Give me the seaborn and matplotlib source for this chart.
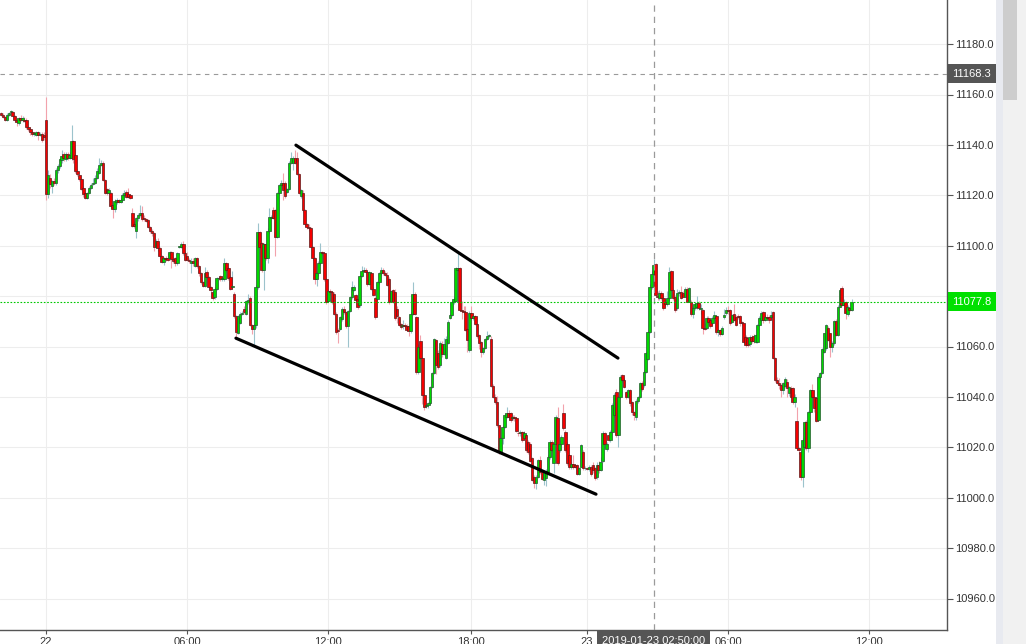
import matplotlib
matplotlib.use("Agg")
import matplotlib.pyplot as plt
import seaborn as sns
from matplotlib.patches import Rectangle

# 5-minute candles, one entry per bar (x axis is bar index, like the trading terminal)
open_ = [
    11152.5, 11152, 11151, 11150, 11152, 11153, 11153, 11151.5, 11150, 11148.5,
    11150.5, 11150, 11150, 11150, 11147, 11146.5, 11145, 11144.5, 11144, 11145,
    11144, 11144.5, 11144, 11150, 11120.5, 11127, 11123.5, 11125.5, 11125, 11130,
    11131.6, 11134, 11136.4, 11134.5, 11136.4, 11135, 11135, 11141.5, 11136, 11129.5,
    11128, 11126.5, 11123, 11121, 11119, 11121, 11123, 11124.5, 11125, 11127,
    11129, 11132, 11133, 11126, 11122.4, 11121, 11121, 11116, 11114.5, 11117.5,
    11118, 11117.5, 11118, 11120, 11121.5, 11120.5, 11120, 11113, 11108.5, 11106,
    11111, 11112, 11113, 11111, 11110.5, 11110, 11107.5, 11105.8, 11105, 11099.5,
    11102, 11099, 11096, 11093.5, 11095, 11095, 11095, 11097.4, 11094.6, 11095,
    11093, 11099.4, 11099.6, 11100.6, 11097, 11096, 11094.5, 11093, 11094, 11092,
    11095, 11092, 11089, 11085.5, 11084, 11089.6, 11087.5, 11083.5, 11081.6, 11079.6,
    11083, 11087, 11088, 11086.6, 11086.6, 11093, 11091, 11087.5, 11083.5, 11081,
    11072, 11065.5, 11069.5, 11073, 11075, 11073, 11077.5, 11079.4, 11068.5, 11067,
    11068.5, 11083.6, 11105.4, 11101, 11090.3, 11100.6, 11095, 11105.8, 11111, 11114,
    11114, 11103.4, 11121, 11124, 11125, 11124.8, 11121.5, 11122.5, 11132.7, 11133,
    11135, 11135, 11128.6, 11119.6, 11121, 11114, 11108.5, 11107.4, 11107, 11099.4,
    11095, 11086.6, 11089, 11093, 11097.4, 11097, 11086.6, 11078, 11082, 11081.6,
    11081, 11073, 11066.5, 11067, 11071, 11075, 11073.5, 11068, 11074, 11079.6,
    11082.5, 11080.4, 11078.8, 11076.4, 11088, 11090, 11090.5, 11089.6, 11085, 11089,
    11083, 11079.4, 11079, 11085.5, 11089, 11090.5, 11089, 11088.5, 11086.8, 11078,
    11082.4, 11081.6, 11075, 11071.7, 11069, 11068, 11068.5, 11068, 11068, 11066,
    11073, 11081, 11071.6, 11050, 11062, 11055.6, 11040.7, 11036.5, 11036.7, 11037.5,
    11044, 11049.6, 11062.6, 11057.6, 11052.6, 11061, 11057, 11055.6, 11061.3, 11071.5,
    11072.5, 11077.6, 11078, 11090.5, 11091, 11074.4, 11074, 11073.6, 11067, 11058.6,
    11073.3, 11071.5, 11072, 11069, 11064.5, 11061.7, 11057.8, 11059.5, 11063, 11064,
    11063, 11044.4, 11040, 11038, 11028.8, 11018.2, 11023.5, 11028, 11032, 11033.5,
    11033.5, 11031.5, 11032, 11031.5, 11025.8, 11025.5, 11026, 11023.5, 11024.8, 11022.2,
    11021.5, 11015.6, 11008.3, 11005.7, 11008.3, 11014.9, 11010.3, 11007, 11007.7, 11010.3,
    11016.2, 11022.2, 11013.6, 11021.5, 11031.5, 11018.9, 11021.5, 11033.5, 11026.2, 11021.5,
    11016.9, 11012.3, 11013.5, 11013, 11013, 11009.6, 11012.3, 11018, 11011.6, 11011.6,
    11011.5, 11012.3, 11013, 11011.6, 11008.3, 11013, 11011, 11014.6, 11025.5, 11019.2,
    11024.8, 11022.9, 11026.2, 11032.8, 11042, 11024.8, 11040, 11048.7, 11046.7, 11042,
    11040, 11042.7, 11038, 11034.1, 11032, 11038.3, 11040, 11045.5, 11044.7, 11050,
    11055, 11065.9, 11083.7, 11088.6, 11092.6, 11079.8, 11079.1, 11081.1, 11079.1, 11077.5,
    11076.7, 11079.1, 11090, 11082.4, 11079.8, 11075.1, 11081.1, 11081.5, 11081.1, 11079.8,
    11082.8, 11077.8, 11077.8, 11072.9, 11075.1, 11075.5, 11077.4, 11074.8, 11074.5, 11067.5,
    11067.5, 11071.4, 11070.5, 11069.2, 11071.2, 11072.1, 11065.9, 11066.5, 11064.9, 11071.6,
    11073.1, 11074.5, 11074.5, 11069.8, 11072.7, 11071.8, 11072.1, 11072.1, 11069.8, 11069.2,
    11063.9, 11063.2, 11060.8, 11063.9, 11064.2, 11061.9, 11061.9, 11068.5, 11070.5, 11073.5,
    11070.5, 11071.8, 11071.8, 11071.6, 11073.5, 11055.5, 11046.7, 11045.5, 11044.7, 11042.7,
    11044.4, 11046, 11041.4, 11043.6, 11043.4, 11038.1, 11030.4, 11019.6, 11018.2, 11008.3,
    11020.2, 11030.1, 11019.8, 11034.1, 11042.7, 11040.1, 11039.5, 11030.8, 11048, 11049.3,
    11057.9, 11059.3, 11067.5, 11065.2, 11059.9, 11061.2, 11070.1, 11064.5, 11075.8, 11083.1,
    11076.5, 11077.8, 11072.7, 11075.1, 11074.5,
]
high = [
    11153, 11152.5, 11151.5, 11152.5, 11153, 11154, 11153.5, 11152, 11150.5, 11151,
    11152, 11151.5, 11151, 11150.5, 11147.5, 11147, 11145.5, 11145, 11145.5, 11145.5,
    11145, 11145, 11145, 11159, 11130, 11128.5, 11126, 11127, 11131, 11132.5,
    11135, 11138, 11137, 11137, 11137, 11137, 11148, 11142, 11138.5, 11130.5,
    11128.5, 11127, 11123.5, 11121.5, 11121.5, 11123.5, 11125, 11127, 11128, 11131,
    11134.7, 11134, 11133.5, 11126.5, 11123, 11123, 11121.5, 11116.5, 11118.5, 11119,
    11118.5, 11119, 11121, 11122, 11122, 11123, 11120.5, 11115, 11110, 11111.5,
    11113, 11116, 11115.7, 11112, 11111, 11110.5, 11108, 11106.5, 11105.5, 11102.5,
    11103, 11099.5, 11096.5, 11095.5, 11096, 11097, 11098, 11098, 11095.5, 11095.5,
    11097.5, 11100, 11101.5, 11102, 11098, 11097.5, 11095, 11095, 11095, 11095.5,
    11095.5, 11092.5, 11089.5, 11086, 11091.4, 11090.5, 11088, 11084, 11082, 11083.5,
    11087.5, 11088, 11088.5, 11088, 11095, 11093.5, 11091.5, 11088, 11090, 11081.5,
    11072.5, 11072.5, 11073.5, 11074, 11076, 11078.5, 11081, 11080, 11069, 11069,
    11084.5, 11109, 11106, 11101.5, 11101, 11101, 11107, 11115, 11112, 11115.5,
    11114.5, 11121.5, 11124.5, 11126, 11129, 11125.5, 11123, 11133.5, 11137, 11135.5,
    11138, 11137, 11129, 11122.5, 11122, 11114.5, 11109, 11108.5, 11107.5, 11100,
    11095.5, 11090, 11094, 11101, 11098, 11097.5, 11087, 11082.5, 11083, 11082,
    11081.5, 11073.5, 11067.5, 11072, 11075.5, 11076, 11074, 11074.5, 11080, 11086,
    11084.5, 11081, 11079.5, 11088.5, 11092, 11091.5, 11091, 11090, 11090, 11089.5,
    11083.5, 11080, 11086, 11089.5, 11091.5, 11091, 11090, 11089.5, 11087.5, 11082.5,
    11083, 11083, 11076, 11072.2, 11069.5, 11070.5, 11069.5, 11069, 11068.5, 11073.5,
    11085.5, 11081.5, 11072, 11061, 11064.5, 11056, 11041, 11037.5, 11038, 11044.5,
    11050, 11063.5, 11063, 11058.5, 11062, 11062, 11063.5, 11064, 11070.5, 11073,
    11078, 11079.5, 11091.5, 11097, 11091.5, 11078, 11076, 11076, 11067.5, 11074,
    11076, 11073, 11072.5, 11069.5, 11065, 11062, 11060, 11063.5, 11066, 11065,
    11064, 11045, 11041, 11040.5, 11029, 11024, 11028.5, 11033.5, 11036, 11035,
    11034, 11033, 11033, 11032, 11026.5, 11027, 11026.5, 11026.5, 11025.5, 11023,
    11022, 11016, 11009, 11009, 11015.5, 11016.5, 11011, 11011, 11011.5, 11017,
    11023, 11023, 11022, 11033, 11036, 11023, 11025, 11037, 11027, 11022,
    11017.5, 11014, 11016.9, 11013.5, 11013.5, 11012, 11021.5, 11019, 11012.5, 11012,
    11013, 11013, 11014, 11012, 11014, 11014.5, 11016, 11026.5, 11026, 11022,
    11025.5, 11027, 11037.5, 11041.5, 11043, 11040.5, 11048.5, 11049, 11047.5, 11042.5,
    11043, 11043, 11038.5, 11034.5, 11039, 11040.5, 11046, 11046.5, 11050.5, 11058,
    11066, 11085, 11090, 11094.7, 11093, 11082, 11082.5, 11082, 11080.5, 11079,
    11082, 11091.5, 11090.5, 11083, 11080.5, 11083, 11082.5, 11084, 11082, 11083.5,
    11083.5, 11083.5, 11078.5, 11075.5, 11077.5, 11080, 11078, 11077, 11075, 11069.5,
    11072, 11072, 11071, 11072, 11074, 11072.5, 11067, 11067, 11068, 11075,
    11075.5, 11076, 11075, 11073, 11077, 11072.5, 11073, 11072.5, 11070, 11069.5,
    11064.5, 11063.5, 11064.5, 11064.5, 11065, 11065, 11069, 11072, 11074, 11074,
    11072.5, 11073, 11072.5, 11074, 11074, 11056, 11048, 11047.5, 11045.5, 11046,
    11048, 11047, 11044.5, 11044.5, 11044, 11041, 11036, 11020, 11018.5, 11023.5,
    11030.5, 11031, 11034.5, 11043, 11045, 11040.5, 11040, 11048.5, 11050, 11059.5,
    11065.5, 11069, 11068, 11065.5, 11062, 11070.5, 11071, 11076.5, 11083, 11084,
    11079, 11078, 11076.5, 11075.5, 11079,
]
low = [
    11151.5, 11150.5, 11149.5, 11149.5, 11151.5, 11152.5, 11151, 11149, 11147.5, 11148,
    11149.5, 11149, 11149, 11146.5, 11145.5, 11144, 11143.5, 11143.5, 11143.5, 11142,
    11143.5, 11141, 11142, 11118, 11119, 11123, 11121, 11124, 11124, 11129,
    11131, 11133, 11133.5, 11133.5, 11134, 11134.5, 11134, 11133, 11129, 11127.5,
    11125.5, 11122, 11119.5, 11118.5, 11118.5, 11120.5, 11122.5, 11124, 11124.5, 11126.5,
    11128.5, 11131.5, 11125.5, 11120.5, 11120, 11120.5, 11115, 11111, 11113.5, 11116.5,
    11117, 11117, 11117.5, 11119.5, 11119, 11119, 11118.5, 11107.5, 11107, 11103,
    11110, 11111.5, 11110, 11110, 11109.5, 11107, 11105, 11104, 11098, 11099,
    11098, 11095, 11093, 11092.5, 11094, 11094, 11094.5, 11091, 11093, 11092,
    11092.5, 11099, 11099, 11096.5, 11094, 11094, 11093, 11089, 11092, 11091.5,
    11091, 11088, 11085, 11083.5, 11083.5, 11087, 11083, 11081.5, 11078.5, 11079,
    11082.5, 11086.5, 11086, 11086, 11086, 11089.5, 11086.5, 11082.5, 11083, 11071.5,
    11063.7, 11065, 11069, 11072.5, 11073, 11072.5, 11077, 11068, 11065, 11060.5,
    11067.5, 11083, 11098.5, 11089.5, 11082.4, 11094.5, 11093, 11105, 11110.5, 11110.5,
    11096, 11103, 11120.5, 11123.5, 11118, 11119, 11121, 11122, 11132.5, 11130,
    11132.5, 11128, 11120.5, 11119, 11113.5, 11108, 11106.5, 11106, 11099, 11094.5,
    11085, 11084, 11088, 11092.5, 11096.5, 11086, 11077, 11077.5, 11080.5, 11077,
    11072.5, 11065, 11061.4, 11066.5, 11070, 11073, 11067.5, 11060, 11073.5, 11079,
    11082, 11078, 11075, 11075.5, 11087.5, 11089.5, 11089, 11084, 11084.5, 11082.5,
    11080, 11071, 11078.5, 11085, 11088.5, 11088.5, 11088, 11084, 11077, 11077.5,
    11077.3, 11070.7, 11069.5, 11068, 11067, 11067, 11067.5, 11066, 11064, 11065.5,
    11072.5, 11072.5, 11049, 11049, 11055, 11037, 11035, 11035.5, 11035.5, 11037,
    11043.5, 11049, 11049, 11051, 11052, 11056, 11056.5, 11055, 11061, 11071,
    11072, 11077, 11077.5, 11090, 11074, 11071, 11073, 11066, 11058, 11058,
    11071, 11070.5, 11068.5, 11063.5, 11059, 11056, 11057, 11059, 11062.5, 11063.5,
    11044, 11039.5, 11037, 11028, 11017.5, 11017.5, 11021.5, 11027.5, 11031.5, 11031.5,
    11030, 11031, 11030.5, 11026, 11024.5, 11024.5, 11022, 11023, 11018, 11017.5,
    11014, 11006.5, 11004, 11003.5, 11008, 11009.5, 11007, 11005, 11004.5, 11009.5,
    11015.5, 11018, 11010, 11021, 11013, 11018, 11021, 11027, 11018, 11013,
    11011.5, 11011.5, 11011.5, 11011.8, 11009, 11009, 11012, 11011, 11011, 11011,
    11010.5, 11008.5, 11010, 11007, 11007.5, 11010, 11010.5, 11014, 11021, 11018.5,
    11022.5, 11022, 11026, 11032, 11024, 11020, 11039.5, 11046, 11043.5, 11039,
    11039.5, 11036.5, 11033, 11031, 11031, 11037.5, 11039.5, 11042.5, 11044, 11049.5,
    11054.5, 11065.5, 11083, 11088, 11080, 11078.5, 11078.5, 11078.5, 11074.5, 11076,
    11076, 11078.5, 11082, 11078.5, 11073.5, 11074.5, 11080, 11079, 11079.5, 11079.5,
    11077.5, 11077.5, 11072, 11071.5, 11074.5, 11075, 11074.5, 11073, 11065, 11066.5,
    11067, 11069, 11067.5, 11068.5, 11070.5, 11065, 11064, 11064, 11064.5, 11071,
    11072.5, 11073, 11068.5, 11069.5, 11070, 11068, 11071, 11068, 11068.5, 11061.5,
    11060, 11060, 11060.3, 11061.5, 11061.5, 11061.5, 11061.5, 11068, 11070, 11069.5,
    11070, 11070.5, 11069.5, 11071, 11055, 11046, 11045, 11043, 11040, 11041,
    11043.5, 11040, 11040.5, 11039.5, 11037, 11036, 11019, 11017.5, 11007, 11004.3,
    11019.5, 11019, 11018, 11033.5, 11039.5, 11034, 11030, 11030.3, 11047, 11049,
    11057.5, 11058.5, 11062, 11056, 11058, 11060.5, 11064, 11064, 11075.5, 11076,
    11076, 11071, 11072, 11074, 11074,
]
close = [
    11152, 11151, 11150, 11152, 11152.5, 11153.5, 11151.5, 11150, 11149, 11150.5,
    11150, 11150.5, 11149.5, 11147, 11146.5, 11145, 11144.5, 11144.5, 11145, 11144,
    11144.5, 11142, 11143, 11120.5, 11128, 11124.5, 11125.5, 11125, 11130, 11131.6,
    11134.3, 11135.5, 11134.8, 11136.4, 11135, 11136, 11141.5, 11134.5, 11129.5, 11128.5,
    11126.5, 11122.5, 11120.5, 11119, 11121, 11123, 11124, 11125, 11127, 11129.5,
    11132, 11133, 11126, 11121, 11121, 11122, 11115.7, 11114.5, 11117.7, 11118,
    11117.5, 11118.2, 11120, 11121, 11119.5, 11119.5, 11119, 11108, 11108, 11111,
    11112, 11113, 11110.5, 11110.5, 11110, 11107.5, 11105.8, 11105, 11099.5, 11102,
    11099, 11096, 11093.5, 11095, 11094.8, 11094.5, 11097.4, 11094.6, 11094, 11093,
    11097, 11099.6, 11100.6, 11097, 11094.5, 11094.5, 11094, 11094, 11093, 11095,
    11092, 11089, 11085.5, 11084, 11089, 11087.7, 11083.5, 11082.4, 11079.2, 11082.8,
    11087, 11087.2, 11086.6, 11087, 11093, 11090.3, 11087, 11083, 11084, 11072,
    11065.6, 11072, 11073, 11073.3, 11073.6, 11078, 11078.4, 11068.5, 11067, 11068.5,
    11083.6, 11105.4, 11099.4, 11090.3, 11100.6, 11095, 11105.8, 11111.3, 11111.3, 11111,
    11103.4, 11121, 11124, 11125, 11122, 11119.6, 11122.5, 11133, 11134.7, 11135,
    11133, 11128.6, 11121, 11122, 11114, 11108.5, 11107.4, 11107, 11099.4, 11095,
    11086.6, 11089, 11093, 11097.4, 11097, 11086.6, 11077.5, 11082, 11081.6, 11077.5,
    11073, 11065.6, 11066, 11071.7, 11075, 11073.5, 11068, 11074, 11079.6, 11083.5,
    11083.8, 11078.4, 11075.6, 11088, 11090, 11090.5, 11089.6, 11085, 11089.4, 11083,
    11080.4, 11071.6, 11085.5, 11089, 11090.5, 11089, 11088.5, 11084.4, 11077.6, 11082,
    11077.8, 11071.2, 11072, 11068.6, 11067.6, 11068.5, 11068, 11066.5, 11066, 11073,
    11081, 11073, 11050, 11060, 11055.6, 11040.7, 11036, 11036.7, 11037.5, 11044,
    11049.6, 11063, 11052.6, 11052, 11061.3, 11057, 11061, 11063, 11069.7, 11072.5,
    11077.6, 11079, 11091, 11091.2, 11074.4, 11074, 11073.6, 11066.5, 11062.6, 11073.3,
    11071.5, 11072, 11069, 11064, 11061.3, 11057.8, 11059.5, 11063, 11064.2, 11064.5,
    11044.4, 11040, 11038, 11028.8, 11018.2, 11023.5, 11028, 11032.8, 11033.5, 11032,
    11030.8, 11032, 11031.5, 11026.5, 11025.5, 11026, 11022.9, 11025.8, 11018.9, 11018.2,
    11014.6, 11007, 11005.7, 11008.3, 11014.9, 11010.3, 11007.5, 11010.3, 11010.5, 11016.2,
    11022.2, 11018.9, 11021.5, 11032, 11013.6, 11021.5, 11024.2, 11027.5, 11018.9, 11013.6,
    11012.3, 11013.5, 11012.3, 11012.3, 11009.6, 11011.6, 11020.9, 11011.6, 11011.8, 11011.5,
    11012.3, 11009.6, 11011, 11007.7, 11013, 11011, 11014, 11025.8, 11021.5, 11021.5,
    11022.9, 11026.2, 11036.7, 11040.7, 11024.8, 11040, 11048, 11046.7, 11044, 11040,
    11042.7, 11037.4, 11034.1, 11032.8, 11038.3, 11040, 11045.5, 11043, 11050, 11057.3,
    11065.9, 11083.7, 11088.6, 11092.3, 11080.4, 11079.5, 11081.1, 11079.1, 11075.1, 11076.7,
    11079.4, 11089.7, 11082.4, 11079.1, 11074.5, 11081.1, 11081.5, 11079.4, 11079.8, 11082.8,
    11077.8, 11083.1, 11072.7, 11075.1, 11076.7, 11077.4, 11075.1, 11075.4, 11067.5, 11067,
    11071.2, 11069.8, 11068.3, 11071.2, 11072.5, 11065.9, 11066.5, 11064.9, 11067.5, 11072.5,
    11074.5, 11074, 11069.2, 11072.5, 11070.5, 11068.5, 11071.6, 11069.2, 11069.2, 11061.9,
    11060.6, 11060.6, 11063.9, 11062.2, 11062.2, 11064.5, 11068.5, 11071.2, 11073.1, 11070.5,
    11071.8, 11071.2, 11070.5, 11072.5, 11055.3, 11046.7, 11045.5, 11044.7, 11042.7, 11045.4,
    11047.3, 11043.4, 11044, 11040.1, 11038.1, 11040.1, 11019.6, 11018.9, 11008.3, 11022.9,
    11030.1, 11019.8, 11034.1, 11042.7, 11040.1, 11035.4, 11030.5, 11048, 11049.3, 11059,
    11065.2, 11068.5, 11062.6, 11059.9, 11061.2, 11070.1, 11064.5, 11075.8, 11082.4, 11076.5,
    11077.8, 11073.1, 11075.8, 11074.5, 11077.8,
]

# time axis labels sit on the bar that carries that timestamp
tick_bars = [23, 95, 167, 240, 299, 371, 443]
tick_labels = ["22", "06:00", "12:00", "18:00", "23", "06:00", "12:00"]
price_ticks = [10960.0, 10980.0, 11000.0, 11020.0, 11040.0, 11060.0, 11080.0,
               11100.0, 11120.0, 11140.0, 11160.0, 11180.0]

cross_bar = 333
cross_time = "2019-01-23 02:50:00"
cross_price = 11168.3
last_price = 11077.8

# hand drawn channel (bar index, price)
upper_bars = [150.5, 314.8]
upper_prices = [11139.9, 11055.4]
lower_bars = [119.9, 303.6]
lower_prices = [11063.3, 11001.4]

sns.set_theme(style="white")
plt.rcParams["font.family"] = ["Liberation Sans", "DejaVu Sans"]

fig = plt.figure(figsize=(10.26, 6.44), dpi=100)
ax = fig.add_axes([0, 14 / 644, 947 / 1026, 630 / 644])

n = len(close)
idx = list(range(n))
up = [c >= o for o, c in zip(open_, close)]
body_col = ["#00d800" if u else "#f50000" for u in up]
edge_col = ["#22552d" if u else "#5a1a1a" for u in up]
wick_col = ["#9cc3cc" if u else "#f2a2ac" for u in up]
bottoms = [min(o, c) for o, c in zip(open_, close)]
heights = [max(abs(c - o), 0.35) for o, c in zip(open_, close)]

ax.vlines(idx, low, high, colors=wick_col, lw=0.8, zorder=2)
ax.bar(idx, heights, bottom=bottoms, width=1.3, color=body_col,
       edgecolor=edge_col, linewidth=0.5, zorder=3)

sns.lineplot(x=upper_bars, y=upper_prices, color="black", lw=2.3, ax=ax, zorder=6)
sns.lineplot(x=lower_bars, y=lower_prices, color="black", lw=2.3, ax=ax, zorder=6)

ax.axhline(cross_price, color="#9a9a9a", lw=0.8, ls=(0, (4, 4)), zorder=4)
ax.axvline(cross_bar, color="#9a9a9a", lw=0.9, ls=(0, (5, 4)), zorder=4)
ax.axhline(last_price, color="#00c800", lw=0.8, ls=(0, (1.5, 1.5)), zorder=4)

ax.set_xlim(-0.5, 482.7)
ax.set_ylim(10947.5, 11197.5)
ax.set_xticks(tick_bars)
ax.set_xticklabels(tick_labels)
ax.set_yticks(price_ticks)
ax.set_yticklabels([f"{p:.1f}" for p in price_ticks])
ax.grid(True, color="#ededed", lw=0.8)
ax.set_axisbelow(True)

for side in ["top", "left"]:
    ax.spines[side].set_visible(False)
for side in ["right", "bottom"]:
    ax.spines[side].set_visible(True)
    ax.spines[side].set_color("#555555")
    ax.spines[side].set_linewidth(1.0)

ax.yaxis.tick_right()
ax.tick_params(axis="y", right=True, left=False, length=4, width=0.8,
               color="#555555", labelsize=8, labelcolor="#333333", pad=2)
ax.tick_params(axis="x", bottom=True, length=3, width=0.8, color="#555555",
               labelsize=8, labelcolor="#333333", pad=2)

box = dict(boxstyle="square,pad=0.42", ec="none")
ax.annotate(f"{cross_price:.1f}", xy=(1, cross_price), xycoords=("axes fraction", "data"),
            xytext=(4, 0), textcoords="offset points", va="center", ha="left",
            fontsize=8, color="white", bbox={**box, "fc": "#555555"},
            annotation_clip=False, zorder=10)
ax.annotate(f"{last_price:.1f}", xy=(1, last_price), xycoords=("axes fraction", "data"),
            xytext=(4, 0), textcoords="offset points", va="center", ha="left",
            fontsize=8, color="white", bbox={**box, "fc": "#00e000"},
            annotation_clip=False, zorder=10)
ax.annotate(cross_time, xy=(cross_bar, 0), xycoords=("data", "axes fraction"),
            xytext=(0, -4), textcoords="offset points", va="top", ha="center",
            fontsize=8, color="white", bbox={**box, "fc": "#555555"},
            annotation_clip=False, zorder=10)

# right hand scroll area
W, H = 1026, 644
fig.add_artist(Rectangle((996 / W, 0), 7 / W, 1, transform=fig.transFigure,
                         fc="#e8eaf0", ec="none"))
fig.add_artist(Rectangle((1003 / W, 0), 23 / W, 1, transform=fig.transFigure,
                         fc="#f1f1f1", ec="none"))
fig.add_artist(Rectangle((1003 / W, 1 - 100 / H), 14 / W, 100 / H,
                         transform=fig.transFigure, fc="#cdcdcd", ec="none"))

fig.savefig("out.png", dpi=100)
